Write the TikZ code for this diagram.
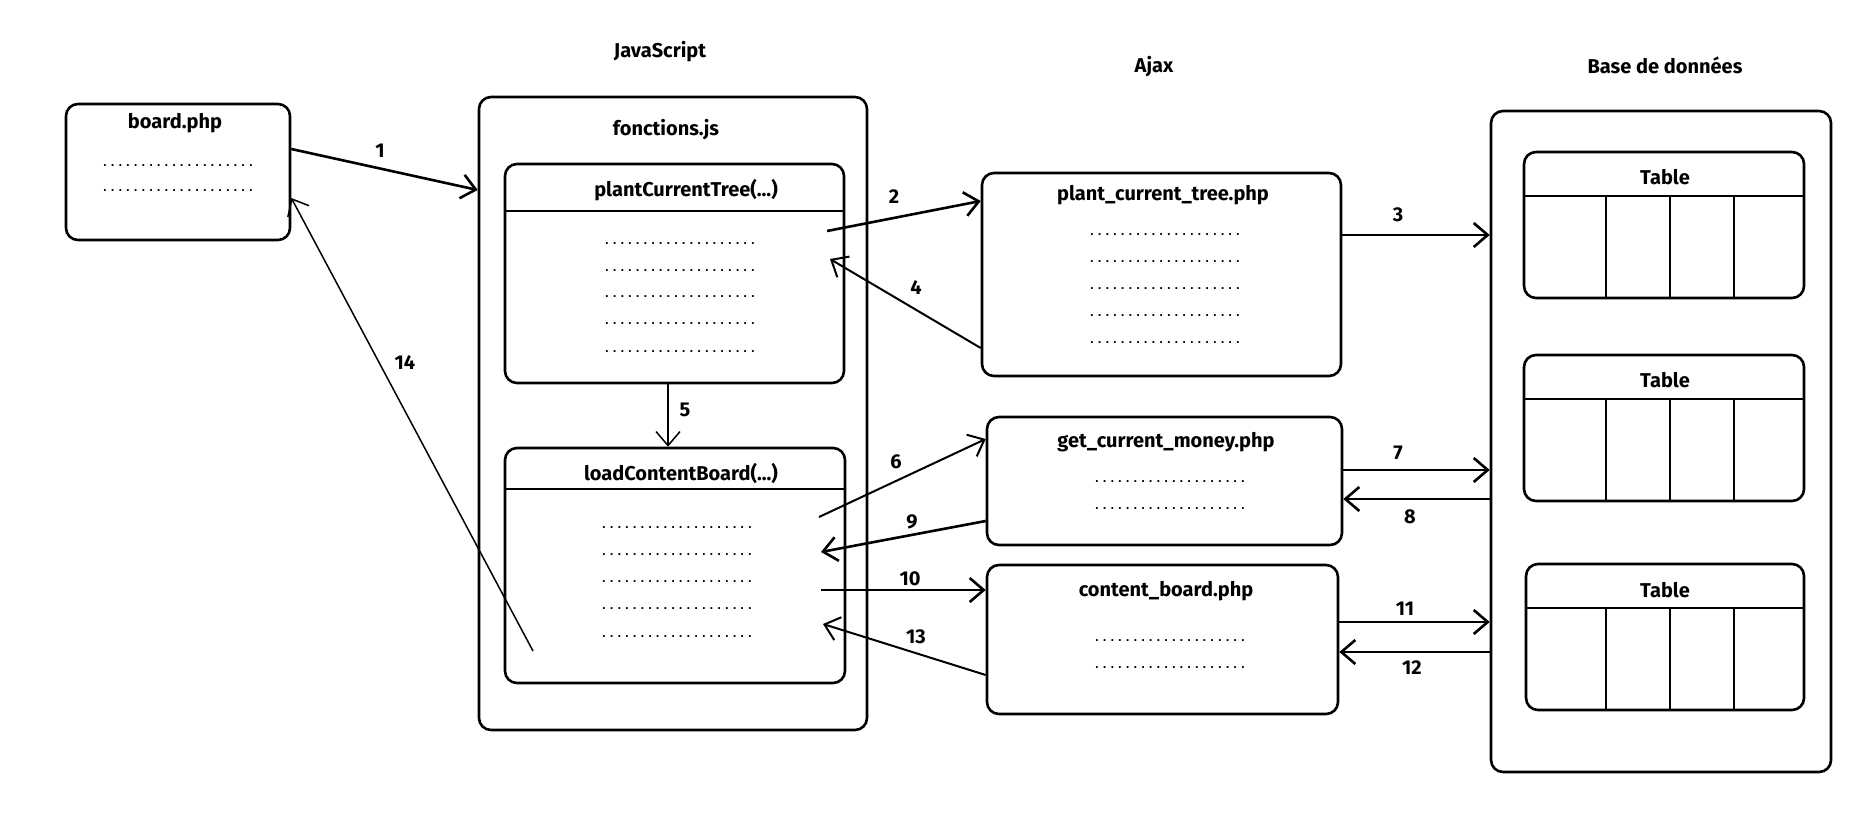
\documentclass[tikz,border=0pt]{standalone}
\usepackage{fontspec}
\setmainfont{Fira Sans}
\newfontfamily\dotfont{Liberation Mono}
\usetikzlibrary{arrows.meta,fit}
\tikzset{
  box/.style={draw, line width=1.3pt, rounded corners=6pt, inner sep=0pt},
  lbl/.style={font=\bfseries\fontsize{10}{12}\selectfont, inner sep=0pt},
  dotrow/.style={font=\dotfont\bfseries\fontsize{6.4}{7}\selectfont, inner sep=0pt},
  arr/.style={-{Straight Barb[length=7pt,width=12pt]}, line width=1.3pt},
  arrm/.style={arr, line width=1pt},
  arrt/.style={arr, line width=0.75pt},
  sep/.style={line width=1.3pt},
}
\newcommand{\dotline}{....................}
\begin{document}
\begin{tikzpicture}[x=0.5pt,y=-0.5pt]
\useasboundingbox (0,0) rectangle (1871,814);

% column titles
\node[lbl] (tjs) at (660,52) {JavaScript};
\node[lbl] (tajax) at (1154,67) {Ajax};
\node[lbl] (tdb) at (1665,65) {Base de données};

% board.php
\node[box, fit={(66,104) (290,240)}] (board) {};
\node[lbl] (boardt) at (175,123) {board.php};
\node[dotrow] (bd1) at (178,166) {\dotline};
\node[dotrow] (bd2) at (178,191) {\dotline};

% fonctions.js
\node[box, fit={(479,97) (867,730)}] (fjs) {};
\node[lbl] (fjst) at (666,130) {fonctions.js};

% plantCurrentTree
\node[box, fit={(505,164) (844,383)}] (pct) {};
\draw[sep] (pct.west |- 0,211) -- (pct.east |- 0,211);
\node[lbl] (pctt) at (686,190) {plantCurrentTree(...)};
\foreach \yy [count=\i] in {244,271,297,324,352}
  \node[dotrow] (pd\i) at (680,\yy) {\dotline};

% loadContentBoard
\node[box, fit={(505,448) (845,683)}] (lcb) {};
\draw[sep] (lcb.west |- 0,489) -- (lcb.east |- 0,489);
\node[lbl] (lcbt) at (681,473) {loadContentBoard(...)};
\foreach \yy [count=\i] in {528,555,582,609,637}
  \node[dotrow] (ld\i) at (677,\yy) {\dotline};

% plant_current_tree.php
\node[box, fit={(982,173) (1341,376)}] (pctphp) {};
\node[lbl] (pctphpt) at (1163,195) {plant\_current\_tree.php};
\foreach \yy [count=\i] in {235,262,289,316,343}
  \node[dotrow] (qd\i) at (1165,\yy) {\dotline};

% get_current_money.php
\node[box, fit={(987,417) (1342,545)}] (gcm) {};
\node[lbl] (gcmt) at (1166,442) {get\_current\_money.php};
\node[dotrow] (gd1) at (1170,482) {\dotline};
\node[dotrow] (gd2) at (1170,509) {\dotline};

% content_board.php
\node[box, fit={(987,565) (1338,714)}] (cb) {};
\node[lbl] (cbt) at (1166,591) {content\_board.php};
\node[dotrow] (cd1) at (1170,641) {\dotline};
\node[dotrow] (cd2) at (1170,668) {\dotline};

% database
\node[box, fit={(1491,111) (1831,772)}] (db) {};
\node[box, fit={(1524,152) (1804,298)}] (ta) {};
\node[box, fit={(1524,355) (1804,501)}] (tb) {};
\node[box, fit={(1526,564) (1804,710)}] (tc) {};
\node[lbl] (tat) at (1665,177) {Table};
\node[lbl] (tbt) at (1665,380) {Table};
\node[lbl] (tct) at (1665,590) {Table};
\draw[sep] (ta.west |- 0,196) -- (ta.east |- 0,196);
\draw[sep] (tb.west |- 0,399) -- (tb.east |- 0,399);
\draw[sep] (tc.west |- 0,608) -- (tc.east |- 0,608);
\foreach \xx in {1606,1670,1734} {
  \draw[line width=0.9pt] (\xx,196) -- (\xx,0 |- ta.south);
  \draw[line width=0.9pt] (\xx,399) -- (\xx,0 |- tb.south);
  \draw[line width=0.9pt] (\xx,608) -- (\xx,0 |- tc.south);
}

% free ends inside the function boxes
\coordinate (c2) at (827,231);
\coordinate (c4) at (830,259);
\coordinate (c6) at (819,517);
\coordinate (c9) at (821,552);
\coordinate (c10) at (821,590);
\coordinate (c13) at (823,624);
\coordinate (c14) at (533,651);

% connectors
\draw[arr] (board.east |- 0,149) -- (fjs.west |- 0,190);
\draw[arr] (c2) -- (pctphp.west |- 0,201);
\draw[arr] (pctphp.east |- 0,235) -- (db.west |- 0,235);
\draw[arrm] (pctphp.west |- 0,348) -- (c4);
\draw[arrt] (pct.south -| 668,0) -- (lcb.north -| 668,0);
\draw[arrm] (c6) -- (gcm.west |- 0,439);
\draw[arr] (gcm.east |- 0,470) -- (db.west |- 0,470);
\draw[arr] (db.west |- 0,499) -- (gcm.east |- 0,499);
\draw[arr] (gcm.west |- 0,521) -- (c9);
\draw[arr] (c10) -- (cb.west |- 0,590);
\draw[arr] (cb.east |- 0,622) -- (db.west |- 0,622);
\draw[arr] (db.west |- 0,652) -- (cb.east |- 0,652);
\draw[arrm] (cb.west |- 0,675) -- (c13);
\draw[arrt] (c14) -- (board.east |- 0,198);

% connector labels
\node[lbl] (n1) at (380,151) {1};
\node[lbl] (n2) at (894,197) {2};
\node[lbl] (n3) at (1398,215) {3};
\node[lbl] (n4) at (916,288) {4};
\node[lbl] (n5) at (685,410) {5};
\node[lbl] (n6) at (896,462) {6};
\node[lbl] (n7) at (1398,453) {7};
\node[lbl] (n8) at (1410,517) {8};
\node[lbl] (n9) at (912,522) {9};
\node[lbl] (n10) at (910,579) {10};
\node[lbl] (n11) at (1405,609) {11};
\node[lbl] (n12) at (1412,668) {12};
\node[lbl] (n13) at (916,637) {13};
\node[lbl] (n14) at (405,363) {14};
\end{tikzpicture}
\end{document}
